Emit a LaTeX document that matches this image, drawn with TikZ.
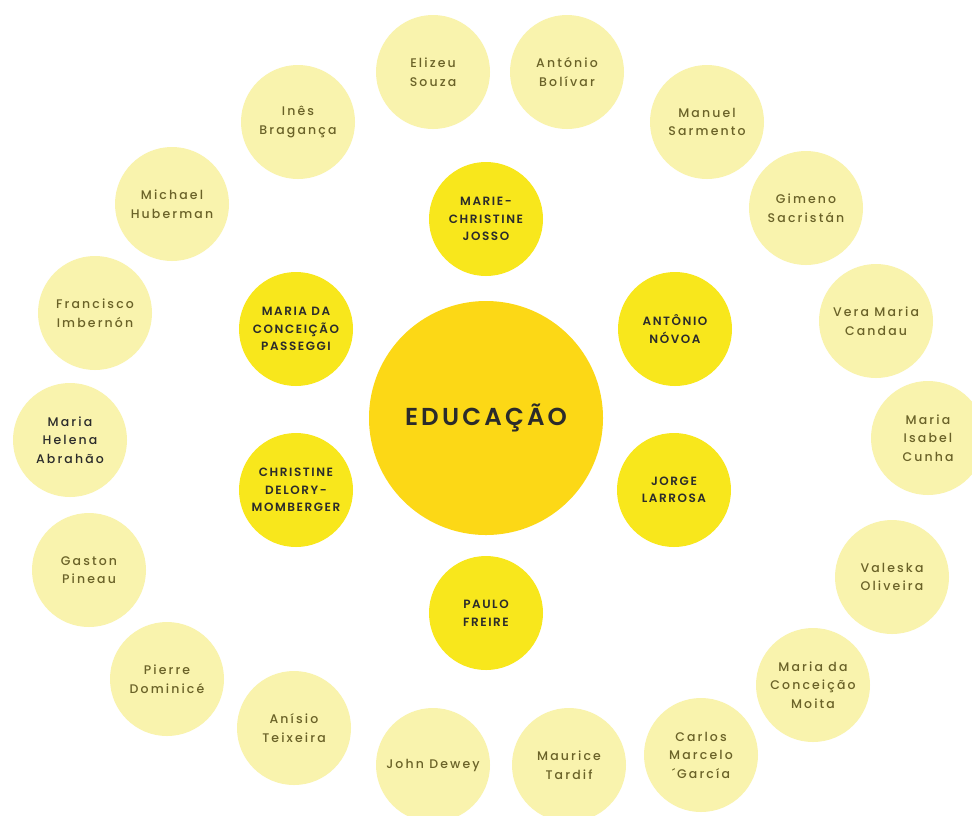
\documentclass[tikz,border=0pt]{standalone}
\usepackage{fontspec}
\setmainfont{Poppins}
\newfontfamily\namefont[LetterSpace=17]{Poppins Medium}
\newfontfamily\capsfont[LetterSpace=13]{Poppins SemiBold}
\usepackage{xcolor}
\usepackage{tikz}
\usetikzlibrary{positioning}

\definecolor{hubgold}{HTML}{FCD816}
\definecolor{inneryellow}{HTML}{F8E71C}
\definecolor{outerpale}{HTML}{F9F3AD}
\definecolor{olivetext}{HTML}{6A6228}
\definecolor{darktext}{HTML}{2B2B2B}

\begin{document}
\begin{tikzpicture}[
      x=1pt, y=-1pt,
      hub/.style={
        circle,
        fill=hubgold,
        minimum size=234pt,
        inner sep=0pt,
        align=center,
        text=darktext,
        font=\capsfont\fontsize{24.5}{28}\selectfont
      },
      inner/.style={
        circle,
        fill=inneryellow,
        minimum size=114pt,
        inner sep=0pt,
        align=center,
        text=darktext,
        font=\capsfont\fontsize{12}{17.5}\selectfont
      },
      outer/.style={
        circle,
        fill=outerpale,
        minimum size=114pt,
        inner sep=0pt,
        align=center,
        text=olivetext,
        font=\namefont\fontsize{12.5}{18.5}\selectfont
      }
    ]
    \useasboundingbox (0,0) rectangle (972,815);
    \fill[white] (0,0) rectangle (972,815);

    \node[hub] (edu) at (486,418) {EDUCAÇÃO};

    \node[inner] (josso) at (486,219) {MARIE-\\CHRISTINE\\JOSSO};
    \node[inner] (passeggi) at (296,329) {MARIA DA\\CONCEIÇÃO\\PASSEGGI};
    \node[inner] (novoa) at (675,329) {ANTÔNIO\\NÓVOA};
    \node[inner] (delory) at (296,490) {CHRISTINE\\DELORY-\\MOMBERGER};
    \node[inner] (larrosa) at (674,490) {JORGE\\LARROSA};
    \node[inner] (freire) at (486,613) {PAULO\\FREIRE};

    \node[outer] (souza) at (433,72) {Elizeu\\Souza};
    \node[outer] (bolivar) at (567,72) {António\\Bolívar};
    \node[outer] (sarmento) at (707,122) {Manuel\\Sarmento};
    \node[outer] (sacristan) at (806,208) {Gimeno\\Sacristán};
    \node[outer] (candau) at (876,321) {Vera Maria\\Candau};
    \node[outer] (cunha) at (928,438) {Maria\\Isabel\\Cunha};
    \node[outer] (oliveira) at (892,577) {Valeska\\Oliveira};
    \node[outer] (moita) at (813,685) {Maria da\\Conceição\\Moita};
    \node[outer] (garcia) at (701,755) {Carlos\\Marcelo\\´García};
    \node[outer] (tardif) at (569,765) {Maurice\\Tardif};
    \node[outer] (dewey) at (433,765) {John Dewey};
    \node[outer] (teixeira) at (294,728) {Anísio\\Teixeira};
    \node[outer] (dominice) at (167,679) {Pierre\\Dominicé};
    \node[outer] (pineau) at (89,570) {Gaston\\Pineau};
    \node[outer, text=darktext] (abrahao) at (70,440) {Maria\\Helena\\Abrahão};
    \node[outer] (imbernon) at (95,313) {Francisco\\Imbernón};
    \node[outer] (huberman) at (172,204) {Michael\\Huberman};
    \node[outer] (braganca) at (298,122) {Inês\\Bragança};
  \end{tikzpicture}
\end{document}
